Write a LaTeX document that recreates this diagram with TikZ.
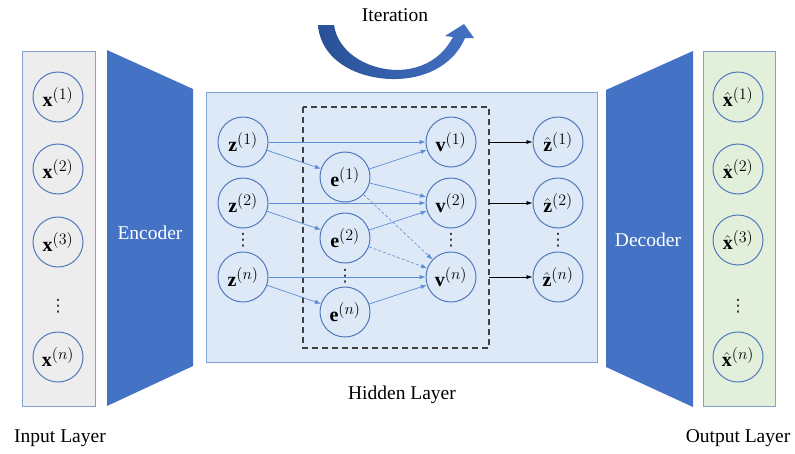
\RequirePackage{fix-cm}
\documentclass[tikz,border=0pt]{standalone}
\usepackage{fontspec}
\setmainfont{Liberation Serif}
\newfontfamily\symfont{DejaVu Sans}
\usetikzlibrary{arrows.meta}
\definecolor{cblue}{RGB}{68,114,196}
\definecolor{nblue}{RGB}{80,120,190}
\definecolor{pborder}{RGB}{130,160,210}
\definecolor{hfill}{RGB}{221,233,246}
\definecolor{gfill}{RGB}{237,237,237}
\definecolor{grfill}{RGB}{226,239,218}
\definecolor{linkblue}{RGB}{95,140,215}
\definecolor{darkarc}{RGB}{40,80,150}
\newcommand\lb[2]{$#1^{\hbox{\fontsize{16}{16}\selectfont$#2$}}$}
\tikzset{
  circnode/.style={circle, draw=nblue, line width=1pt, minimum size=50pt, inner sep=0pt,
    font=\fontsize{20}{22}\selectfont},
  dotnode/.style={inner sep=0pt, text=black!85, font=\fontsize{17}{18}\symfont},
  panel/.style={draw=pborder, line width=1pt},
  conn/.style={draw=linkblue, line width=0.7pt, -{Latex[length=6pt,width=4.5pt]}},
  dconn/.style={draw=linkblue, line width=0.6pt, dash pattern=on 3pt off 2pt, -{Latex[length=6pt,width=4.5pt]}},
  kconn/.style={draw=black, line width=0.6pt, -{Latex[length=6pt,width=4pt]}},
  txt/.style={font=\fontsize{19.5}{22}\selectfont, inner sep=0pt},
}
\begin{document}
\begin{tikzpicture}[x=1pt,y=-1pt]
\useasboundingbox (0,0) rectangle (795,453);
% panels
\filldraw[panel, fill=gfill] (22,51) rectangle (95,406);
\filldraw[panel, fill=grfill] (703,51) rectangle (775,406);
\filldraw[panel, fill=hfill] (206,92) rectangle (597,362);
% encoder / decoder
\fill[cblue] (107,50) -- (193,89) -- (193,366) -- (107,406) -- cycle;
\fill[cblue] (606,90) -- (693,51) -- (693,407) -- (606,367) -- cycle;
\node[txt, text=white] (enc) at (150,233) {Encoder};
\node[txt, text=white] (dec) at (648,240) {Decoder};
% dashed box
\draw[black!75, line width=1.3pt, dash pattern=on 6pt off 4pt] (303,107) rectangle (489,348);
\coordinate (o1) at (489,142);
\coordinate (o2) at (489,203);
\coordinate (on) at (489,277);
% input nodes
\node[circnode] (x1) at (58,97) {\lb{\mathbf{x}}{(1)}};
\node[circnode] (x2) at (58,169) {\lb{\mathbf{x}}{(2)}};
\node[circnode] (x3) at (58,242) {\lb{\mathbf{x}}{(3)}};
\node[dotnode] (xd) at (58,306) {⋮};
\node[circnode] (xn) at (58,357) {\lb{\mathbf{x}}{(n)}};
% output nodes
\node[circnode] (y1) at (738,97) {\lb{\hat{\mathbf{x}}}{(1)}};
\node[circnode] (y2) at (738,169) {\lb{\hat{\mathbf{x}}}{(2)}};
\node[circnode] (y3) at (738,240) {\lb{\hat{\mathbf{x}}}{(3)}};
\node[dotnode] (yd) at (738,306) {⋮};
\node[circnode] (yn) at (738,357) {\lb{\hat{\mathbf{x}}}{(n)}};
% hidden nodes
\node[circnode] (z1) at (243,142) {\lb{\mathbf{z}}{(1)}};
\node[circnode] (z2) at (243,203) {\lb{\mathbf{z}}{(2)}};
\node[dotnode] (zd) at (243,240) {⋮};
\node[circnode] (zn) at (243,277) {\lb{\mathbf{z}}{(n)}};
\node[circnode] (e1) at (345,177) {\lb{\mathbf{e}}{(1)}};
\node[circnode] (e2) at (345,238) {\lb{\mathbf{e}}{(2)}};
\node[dotnode] (ed) at (345,276) {⋮};
\node[circnode] (en) at (345,312) {\lb{\mathbf{e}}{(n)}};
\node[circnode] (v1) at (451,142) {\lb{\mathbf{v}}{(1)}};
\node[circnode] (v2) at (451,203) {\lb{\mathbf{v}}{(2)}};
\node[dotnode] (vd) at (451,240) {⋮};
\node[circnode] (vn) at (451,277) {\lb{\mathbf{v}}{(n)}};
\node[circnode] (h1) at (558,142) {\lb{\hat{\mathbf{z}}}{(1)}};
\node[circnode] (h2) at (558,203) {\lb{\hat{\mathbf{z}}}{(2)}};
\node[dotnode] (hd) at (558,240) {⋮};
\node[circnode] (hn) at (558,277) {\lb{\hat{\mathbf{z}}}{(n)}};
% connectors
\draw[conn] (z1) -- (e1);
\draw[conn] (z2) -- (e2);
\draw[conn] (zn) -- (en);
\draw[conn] (z1) -- (v1);
\draw[conn] (z2.east) -- (v2.west);
\draw[conn] (zn) -- (vn);
\draw[conn] (e1) -- (v1);
\draw[conn] (e1) -- (v2);
\draw[dconn] (e1) -- (vn);
\draw[conn] (e2) -- (v2);
\draw[dconn] (e2) -- (vn);
\draw[conn] (en) -- (vn);
\draw[kconn] (o1) -- (h1);
\draw[kconn] (o2) -- (h2);
\draw[kconn] (on) -- (hn);
% labels
\node[txt] (lin) at (60,438) {Input Layer};
\node[txt] (lhid) at (402,395) {Hidden Layer};
\node[txt] (lout) at (738,438) {Output Layer};
\node[txt] (lit) at (395,15) {Iteration};
% iteration arrow
\shade[left color=darkarc, right color=cblue]
  (318,25) .. controls (321,62) and (360,80) .. (397,79)
  .. controls (430,78) and (455,62) .. (465,38)
  -- (474,38) -- (464,24) -- (445,36) -- (453,37)
  .. controls (442,58) and (422,70) .. (396,70)
  .. controls (366,69) and (338,52) .. (334,25) -- cycle;
\end{tikzpicture}
\end{document}
